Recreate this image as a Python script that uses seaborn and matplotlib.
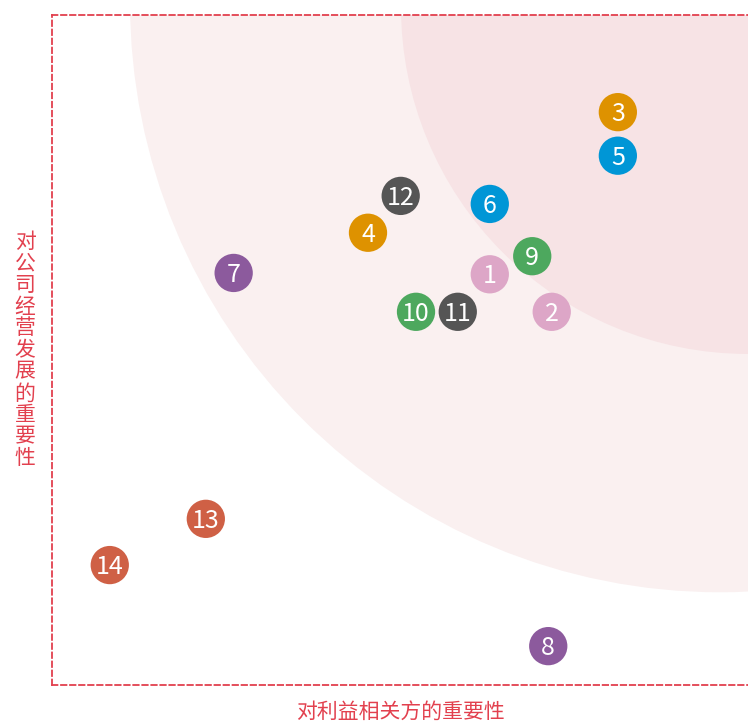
import matplotlib
matplotlib.use("Agg")
import matplotlib.pyplot as plt
import seaborn as sns
import pandas as pd
from matplotlib.patches import Ellipse

sns.set_theme(style="white")
plt.rcParams['font.family'] = ['Noto Sans CJK SC', 'DejaVu Sans']

labels = ["1", "2", "3", "4", "5", "6", "7", "8", "9", "10", "11", "12", "13", "14"]
stakeholder = [62.9, 71.8, 81.3, 45.4, 81.3, 62.9, 26.1, 71.3, 69.0, 52.3, 58.3, 50.1, 22.1, 8.3]
business = [61.3, 55.7, 85.5, 67.5, 79.0, 71.8, 61.5, 5.8, 64.0, 55.7, 55.7, 73.0, 24.8, 17.9]
groups = ["pink", "pink", "orange", "orange", "blue", "blue", "purple", "purple",
          "green", "green", "gray", "gray", "red", "red"]
palette = {"pink": "#DDA6C7", "orange": "#DE9200", "blue": "#0096D6", "purple": "#8C5A9D",
           "green": "#4DA85E", "gray": "#555555", "red": "#CF6045"}

df = pd.DataFrame({"x": stakeholder, "y": business, "g": groups, "label": labels})

W, H = 748, 723
fig = plt.figure(figsize=(W / 100, H / 100), dpi=100)
ax = fig.add_axes([52 / W, 38 / H, 696 / W, 670 / H])
ax.set_xlim(0, 100)
ax.set_ylim(0, 100)

# concentric zones (circular in pixels)
sx, sy = 6.96, 6.70
ax.add_patch(Ellipse((95.98, 101.9), 2 * 590 / sx, 2 * 590 / sy, facecolor="#FAF0F0",
                     edgecolor="none", zorder=0))
ax.add_patch(Ellipse((100.0, 101.2), 2 * 347 / sx, 2 * 347 / sy, facecolor="#F7E3E5",
                     edgecolor="none", zorder=0.5))

sns.scatterplot(data=df, x="x", y="y", hue="g", palette=palette, s=760,
                edgecolor="none", legend=False, ax=ax, zorder=3)
for xi, yi, lab in zip(df["x"], df["y"], df["label"]):
    ax.text(xi, yi - 0.3, lab, color="white", ha="center", va="center", fontsize=18,
            fontweight="light", zorder=4)

ax.set_xticks([])
ax.set_yticks([])
ax.set_xlabel("")
ax.set_ylabel("")
red = "#E2404E"
for side in ["top", "left", "bottom"]:
    ax.spines[side].set_visible(True)
    ax.spines[side].set_color(red)
    ax.spines[side].set_linestyle((0, (3, 2)))
    ax.spines[side].set_linewidth(1.3)
ax.spines["right"].set_visible(False)

fig.text(400 / W, 1 - 712 / H, "对利益相关方的重要性", color=red, fontsize=15,
         ha="center", va="center")
fig.text(25 / W, 1 - 350 / H, "\n".join("对公司经营发展的重要性"), color=red, fontsize=15,
         ha="center", va="center", linespacing=0.98)

fig.savefig("out.png", dpi=100)
